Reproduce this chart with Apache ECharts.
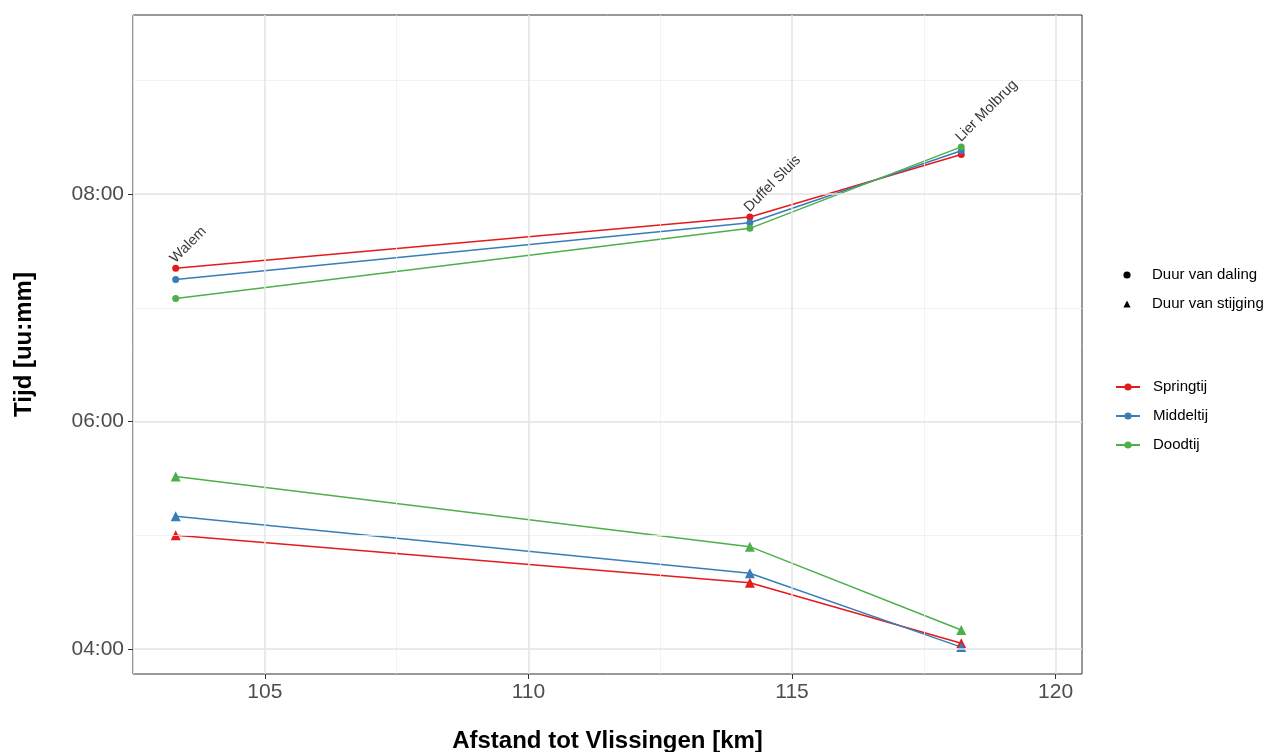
<!DOCTYPE html>
<html>
<head>
<meta charset="utf-8">
<script src="https://cdn.jsdelivr.net/npm/echarts@6/dist/echarts.min.js"></script>
<style>
  html, body { margin: 0; padding: 0; background: #ffffff; }
  #chart { width: 1269px; height: 752px; }
</style>
</head>
<body>
<div id="chart"></div>
<script>
// Meetlocaties langs de Nete en hun afstand tot Vlissingen (km)
const locations = ['Walem', 'Duffel Sluis', 'Lier Molbrug'];
const distanceKm = [103.31, 114.20, 118.21];

// Duur van daling / stijging in minuten
const dalingSpringtij = [441, 468, 501];
const dalingMiddeltij = [435, 465, 503];
const dalingDoodtij   = [425, 462, 505];
const stijgingSpringtij = [300, 275, 243];
const stijgingMiddeltij = [310, 280, 241];
const stijgingDoodtij   = [331, 294, 250];

const tideNames = ['Springtij', 'Middeltij', 'Doodtij'];
const shapeNames = ['Duur van daling', 'Duur van stijging'];

// As-indeling
const xMajorTicks = [105, 110, 115, 120];
const xMinorTicks = [102.5, 107.5, 112.5, 117.5];
const yMajorTicks = [240, 360, 480];
const yMinorTicks = [300, 420, 540];

const tideColors = ['#E41A1C', '#377EB8', '#4DAF4A'];
const FONT = '"Liberation Sans", Arial, Helvetica, sans-serif';

const daling = [dalingSpringtij, dalingMiddeltij, dalingDoodtij];
const stijging = [stijgingSpringtij, stijgingMiddeltij, stijgingDoodtij];

function pairs(values) {
  return values.map((v, i) => [distanceKm[i], v]);
}
function hhmm(minutes) {
  const h = Math.floor(minutes / 60);
  const m = Math.round(minutes - h * 60);
  return String(h).padStart(2, '0') + ':' + String(m).padStart(2, '0');
}

// Locatienaam bij het hoogste punt van de daling
const labelPoints = distanceKm.map((x, i) => ({
  value: [x, Math.max(...daling.map(s => s[i]))],
  name: locations[i]
}));

const gridMajor = { color: '#e3e3e3', width: 1.5, type: 'solid' };
const gridMinor = { color: '#efefef', width: 0.8, type: 'solid' };

const series = [];

// Rasterlijnen
series.push({
  name: 'raster',
  type: 'line',
  data: [],
  silent: true,
  z: 1,
  markLine: {
    silent: true,
    animation: false,
    symbol: ['none', 'none'],
    label: { show: false },
    emphasis: { disabled: true },
    data: [
      ...xMinorTicks.map(v => ({ xAxis: v, lineStyle: gridMinor })),
      ...yMinorTicks.map(v => ({ yAxis: v, lineStyle: gridMinor })),
      ...xMajorTicks.map(v => ({ xAxis: v, lineStyle: gridMajor })),
      ...yMajorTicks.map(v => ({ yAxis: v, lineStyle: gridMajor }))
    ]
  }
});

// Symbool-legenda (alleen vorm)
series.push({
  name: shapeNames[0], type: 'line', data: [], symbol: 'circle',
  itemStyle: { color: '#000' }, lineStyle: { width: 0, opacity: 0 }
});
series.push({
  name: shapeNames[1], type: 'line', data: [], symbol: 'triangle',
  itemStyle: { color: '#000' }, lineStyle: { width: 0, opacity: 0 }
});

// Daling (cirkels)
tideNames.forEach((name, i) => {
  series.push({
    name: name,
    type: 'line',
    data: pairs(daling[i]),
    symbol: 'circle',
    symbolSize: 7,
    showAllSymbol: true,
    itemStyle: { color: tideColors[i] },
    lineStyle: { color: tideColors[i], width: 1.5 },
    z: 3
  });
});
// Stijging (driehoeken)
tideNames.forEach((name, i) => {
  series.push({
    name: name,
    type: 'line',
    data: pairs(stijging[i]),
    symbol: 'triangle',
    symbolSize: 10,
    showAllSymbol: true,
    itemStyle: { color: tideColors[i] },
    lineStyle: { color: tideColors[i], width: 1.5 },
    z: 3
  });
});

// Locatienamen
series.push({
  name: 'locaties',
  type: 'scatter',
  data: labelPoints,
  symbolSize: 0,
  silent: true,
  z: 5,
  label: {
    show: true,
    formatter: p => p.name,
    position: 'right',
    distance: 0,
    offset: [3, 0],
    rotate: 45,
    align: 'left',
    verticalAlign: 'bottom',
    color: '#000',
    fontFamily: FONT,
    fontSize: 14.5
  }
});

const chart = echarts.init(document.getElementById('chart'), null, { renderer: 'canvas' });
chart.setOption({
  backgroundColor: '#ffffff',
  animation: false,
  grid: {
    left: 133, top: 15, right: 187, bottom: 78,
    outerBoundsMode: 'none',
    containLabel: false,
    show: true, borderColor: '#333333', borderWidth: 1, backgroundColor: '#ffffff'
  },
  xAxis: {
    type: 'value',
    min: 102.5,
    max: 120.5,
    interval: 2.5,
    name: 'Afstand tot Vlissingen [km]',
    nameLocation: 'middle',
    nameGap: 55,
    nameTextStyle: { color: '#000', fontFamily: FONT, fontSize: 24, fontWeight: 'bold' },
    axisLine: { show: false },
    splitLine: { show: false },
    axisTick: {
      show: true, length: 5, customValues: xMajorTicks,
      lineStyle: { color: '#333333', width: 1 }
    },
    axisLabel: {
      customValues: xMajorTicks,
      margin: 8,
      color: '#4d4d4d',
      fontFamily: FONT,
      fontSize: 21,
      formatter: v => (v % 5 === 0 ? String(v) : '')
    }
  },
  yAxis: {
    type: 'value',
    min: 226.8,
    max: 574.6,
    name: 'Tijd [uu:mm]',
    nameLocation: 'middle',
    nameGap: 97,
    nameRotate: 90,
    nameTextStyle: { color: '#000', fontFamily: FONT, fontSize: 24, fontWeight: 'bold' },
    axisLine: { show: false },
    splitLine: { show: false },
    axisTick: {
      show: true, length: 5, customValues: yMajorTicks,
      lineStyle: { color: '#333333', width: 1 }
    },
    axisLabel: {
      customValues: yMajorTicks,
      margin: 9,
      color: '#4d4d4d',
      fontFamily: FONT,
      fontSize: 21,
      formatter: v => hhmm(v)
    }
  },
  legend: [
    {
      data: shapeNames,
      orient: 'vertical',
      left: 1115,
      top: 267,
      padding: 0,
      itemWidth: 24,
      itemHeight: 9,
      itemGap: 13,
      selectedMode: false,
      lineStyle: { opacity: 0, width: 0 },
      textStyle: { color: '#000', fontFamily: FONT, fontSize: 15, lineHeight: 16, padding: [0, 0, 0, 8] }
    },
    {
      data: tideNames,
      orient: 'vertical',
      left: 1115,
      top: 379,
      padding: 0,
      itemWidth: 24,
      itemHeight: 9,
      itemGap: 13,
      textStyle: { color: '#000', fontFamily: FONT, fontSize: 15, lineHeight: 16, padding: [0, 0, 0, 8] }
    }
  ],
  series: series
});
</script>
</body>
</html>
